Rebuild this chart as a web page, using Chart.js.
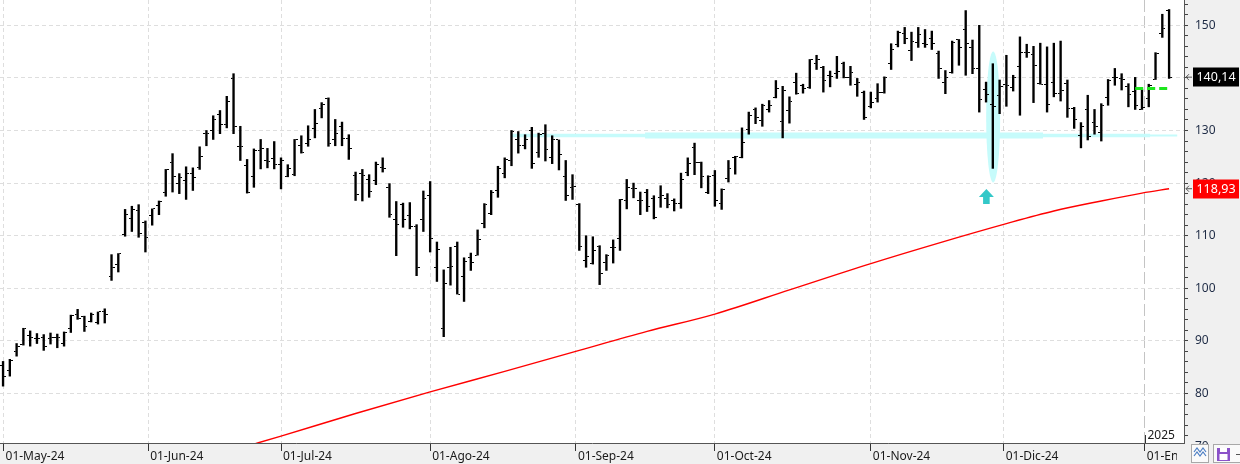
<!DOCTYPE html>
<html>
<head>
<meta charset="utf-8">
<script src="https://cdn.jsdelivr.net/npm/chart.js@4.4.1/dist/chart.umd.min.js"></script>
<style>
  html, body { margin: 0; padding: 0; background: #fff; overflow: hidden; }
  canvas { display: block; }
</style>
</head>
<body>
<canvas id="chart" width="1240" height="464"></canvas>
<script>
// daily bars, one per session, May 2024 -> early Jan 2025
const opens = [85.3,84.4,87.9,89.4,91.1,90.5,90.6,90.4,90.6,89.6,92.4,95.0,94.7,93.7,93.5,95.5,102.2,104.5,110.3,113.2,114.8,112.6,
  113.8,115.7,118.3,124.0,119.9,120.4,121.9,123.0,129.4,130.0,133.0,131.1,139.8,127.0,123.3,121.2,126.2,124.3,124.6,
  123.5,121.2,121.6,127.2,127.5,130.3,134.1,136.1,128.3,130.8,128.4,121.4,121.9,120.6,120.5,123.0,119.2,113.0,116.0,113.8,111.8,113.1,
  117.6,103.9,92.3,103.9,108.0,102.2,105.8,106.3,112.3,114.2,118.6,121.9,124.3,128.2,127.1,130.0,125.9,129.4,124.9,128.2,121.3,119.2,
  115.9,105.3,104.8,108.0,104.9,107.8,109.4,116.7,118.9,116.6,118.3,117.0,117.3,117.0,116.7,116.2,122.1,126.8,124.0,118.3,
  121.4,116.2,120.8,124.8,124.8,130.2,134.0,131.9,134.0,136.2,131.7,133.8,139.2,138.6,138.1,142.7,142.0,140.5,140.8,142.7,140.1,138.8,137.3,
  134.5,136.1,137.3,142.7,146.4,148.5,145.2,146.7,146.5,147.5,144.7,139.2,141.1,147.3,149.2,145.8,141.8,137.7,135.0,136.7,
  138.8,138.2,142.1,144.9,144.5,138.9,138.8,139.2,137.0,138.9,134.2,129.1,133.9,131.6,129.7,136.3,140.0,139.9,138.4,137.5,134.0,
  136.1,139.7,148.5,152.8];
const highs = [86.1,86.5,89.5,92.4,91.9,91.4,91.2,91.5,91.3,91.7,94.9,96.0,94.7,95.3,95.5,96.1,106.4,106.6,115.0,115.6,115.9,112.8,
  115.1,116.6,122.6,125.6,121.8,123.1,122.9,126.9,130.0,132.8,133.8,136.5,140.8,130.8,124.5,126.5,128.3,126.6,127.9,
  124.8,123.5,128.3,129.0,130.9,134.0,135.3,136.2,132.1,131.6,129.2,122.1,122.6,121.6,124.0,124.8,119.9,116.5,116.2,116.3,112.1,118.5,
  120.3,108.8,103.5,107.8,108.8,105.8,106.7,111.1,116.1,118.6,123.2,124.8,130.0,129.8,129.2,130.6,129.5,131.1,129.0,128.2,124.3,121.6,
  116.1,110.0,109.8,108.1,106.4,109.2,116.9,120.7,120.0,118.3,118.8,117.6,119.5,118.0,117.0,121.9,124.8,127.6,124.0,121.4,
  122.4,118.9,124.3,125.1,130.5,133.5,134.3,135.0,135.7,139.5,138.4,136.4,140.9,138.8,143.5,144.3,142.2,141.3,144.1,143.0,142.2,139.9,137.5,
  137.3,138.9,140.2,146.5,148.9,149.6,148.7,149.6,149.2,148.9,145.1,141.4,147.0,147.3,152.8,147.2,150.0,139.2,142.7,139.6,
  144.3,140.5,147.8,146.4,146.0,146.6,145.9,146.6,147.0,139.6,134.4,131.5,136.7,134.0,135.1,139.7,141.8,140.8,138.9,140.1,137.8,
  138.8,144.8,152.1,153.0];
const lows = [81.4,83.3,87.1,89.2,89.0,89.5,88.2,89.4,88.7,89.0,91.6,94.1,91.8,93.6,93.2,93.4,101.5,103.1,109.9,110.8,109.7,106.9,
  112.0,114.0,117.5,118.3,118.0,116.9,118.6,122.6,127.1,128.3,129.4,130.5,129.4,124.3,118.1,119.2,122.7,122.9,122.7,
  118.9,121.2,121.4,125.7,127.0,128.6,132.4,127.0,127.1,127.1,124.5,116.7,116.6,117.3,119.7,122.1,113.5,106.2,111.6,111.3,102.4,110.8,
  106.9,101.3,90.8,100.6,98.9,97.5,103.4,106.3,111.5,114.0,117.3,121.0,123.3,125.7,126.5,122.8,124.9,124.2,123.7,122.5,116.7,116.9,
  107.2,104.0,104.6,100.7,103.4,104.8,107.2,115.1,117.2,114.0,114.6,113.2,115.4,115.3,114.7,115.2,121.4,121.6,119.1,118.0,
  115.6,115.0,120.2,121.7,124.8,129.3,131.3,130.8,133.5,136.2,128.6,131.4,136.9,137.1,138.0,141.6,137.3,138.3,139.9,140.0,138.6,136.5,132.1,
  134.3,135.4,137.1,141.6,145.9,146.5,143.3,145.8,145.8,145.4,139.9,137.0,140.9,142.4,140.5,140.8,133.5,135.4,122.8,133.2,
  134.6,137.5,132.9,143.9,135.3,138.8,133.5,136.4,135.6,132.5,130.4,126.7,128.2,129.3,128.0,134.8,138.6,137.7,134.5,134.0,134.0,
  134.5,139.7,147.7,139.9];
const closes = [83.2,86.3,89.0,92.3,90.6,90.4,89.0,90.6,90.6,91.6,94.8,94.3,92.7,95.0,95.5,95.0,103.9,106.6,114.1,115.0,110.5,109.6,
  115.1,116.5,122.6,121.2,121.0,121.9,121.0,125.1,129.4,132.1,131.1,135.6,130.8,126.9,118.3,126.2,126.5,124.2,123.5,
  124.3,122.7,128.3,125.8,128.3,131.4,134.9,127.5,129.5,128.4,126.5,117.9,121.4,118.4,123.5,122.7,114.1,112.2,113.0,111.7,103.9,117.0,
  109.4,107.4,100.9,104.1,98.9,105.1,105.0,109.2,115.9,118.3,122.8,124.4,129.9,127.1,128.2,123.8,129.2,126.3,128.2,125.4,117.6,119.4,
  107.9,106.0,107.2,102.8,106.2,107.8,116.8,119.1,118.9,116.7,115.6,113.4,117.6,116.0,116.2,120.7,123.8,124.0,121.3,121.3,
  116.7,118.8,122.8,125.0,127.7,132.9,132.4,134.8,134.8,138.0,137.6,135.6,137.0,138.0,143.5,143.5,139.5,140.3,141.3,140.0,141.1,139.2,132.4,
  135.4,137.3,140.0,145.4,148.7,147.5,147.0,148.3,146.4,146.5,141.8,140.0,146.8,145.8,146.6,141.8,135.9,136.9,134.5,138.4,
  138.6,140.1,144.9,144.9,142.4,138.8,135.0,137.0,137.6,134.2,132.0,130.8,128.9,130.7,134.7,139.6,140.0,139.7,136.8,134.8,134.4,
  138.6,144.6,149.4,140.14];

// moving average (bar index, value)
const maIdx = [36, 41, 52, 63, 74, 85, 95, 105, 116, 128, 138, 148, 155, 162, 168, 172];
const maVal = [70.0, 71.9, 76.2, 80.3, 84.2, 88.2, 91.8, 95.1, 99.7, 104.7, 108.6, 112.3, 114.7, 116.6, 118.1, 118.93];

// month boundaries on the bar index axis
const monthPos = [0.07, 21.4, 41.0, 63.0, 84.5, 105.0, 128.0, 147.6, 168.4];
const monthLabels = ['01-May-24', '01-Jun-24', '01-Jul-24', '01-Ago-24', '01-Sep-24', '01-Oct-24', '01-Nov-24', '01-Dic-24', '01-Ene-25'];

// drawn annotations
const supportLevel = 129.05;
const supportFrom = [75, 75, 94.7];
const supportTo = [173.2, 169.2, 153.4];
const signalLevel = 138.0;
const signalFrom = 167.0, signalTo = 171.8;
const markBar = 146.05, markTop = 145.0, markBottom = 120.1;
const arrowBar = 145.05, arrowTip = 118.9;

Chart.defaults.font.family = '"Noto Sans", "DejaVu Sans", sans-serif';

function tickImg(left) {
  const c = document.createElement('canvas');
  c.width = 6; c.height = 1;
  const g = c.getContext('2d');
  g.fillStyle = '#000';
  g.fillRect(left ? 0 : 4, 0, 2, 1);
  return c;
}

const decor = {
  id: 'decor',
  beforeDraw(chart) {
    const { ctx, chartArea: a, width, height } = chart;
    ctx.save();
    ctx.fillStyle = '#fff';
    ctx.fillRect(0, 0, width, height);
    ctx.fillStyle = '#f0f0f0';
    ctx.fillRect(a.right, 0, width - a.right, height);
    ctx.fillRect(0, a.bottom, width, height - a.bottom);
    ctx.restore();
  },
  beforeDatasetsDraw(chart) {
    const { ctx, scales: { x, y } } = chart;
    const cx = x.getPixelForValue(markBar);
    const t = y.getPixelForValue(markTop), b = y.getPixelForValue(markBottom);
    ctx.save();
    ctx.fillStyle = '#c6fbfb';
    ctx.beginPath();
    ctx.ellipse(cx, (t + b) / 2, 7, (b - t) / 2, 0, 0, Math.PI * 2);
    ctx.fill();
    ctx.restore();
  },
  afterDatasetsDraw(chart) {
    const { ctx, scales: { x, y } } = chart;
    const ax = x.getPixelForValue(arrowBar), ay = y.getPixelForValue(arrowTip);
    ctx.save();
    ctx.fillStyle = '#33c8c8';
    ctx.beginPath();
    ctx.moveTo(ax, ay);
    ctx.lineTo(ax + 7.5, ay + 8);
    ctx.lineTo(ax + 3.3, ay + 8);
    ctx.lineTo(ax + 3.3, ay + 15);
    ctx.lineTo(ax - 3.3, ay + 15);
    ctx.lineTo(ax - 3.3, ay + 8);
    ctx.lineTo(ax - 7.5, ay + 8);
    ctx.closePath();
    ctx.fill();
    ctx.restore();
  },
  afterDraw(chart) {
    const { ctx, chartArea: a, scales: { x, y } } = chart;
    ctx.save();

    // partly hidden 70 label
    ctx.save();
    ctx.beginPath();
    ctx.rect(a.right, 0, 60, a.bottom + 1);
    ctx.clip();
    ctx.fillStyle = '#1e2b45';
    ctx.font = '12px "Noto Sans"';
    ctx.textAlign = 'left';
    ctx.textBaseline = 'middle';
    ctx.fillText('70', a.right + 11, y.getPixelForValue(70));
    ctx.restore();

    // year marker
    const jx = Math.round(x.getPixelForValue(monthPos[8])) + 0.5;
    ctx.strokeStyle = '#333';
    ctx.lineWidth = 1;
    ctx.beginPath();
    ctx.moveTo(jx, a.bottom - 8);
    ctx.lineTo(jx, a.bottom);
    ctx.stroke();
    ctx.fillStyle = '#1a1a1a';
    ctx.font = '12px "Noto Sans"';
    ctx.textAlign = 'left';
    ctx.textBaseline = 'alphabetic';
    ctx.fillText('2025', jx + 2, a.bottom - 4);

    // price tags on the right axis
    function tag(v, bg) {
      const py = y.getPixelForValue(v);
      ctx.fillStyle = bg;
      ctx.fillRect(a.right + 9, Math.round(py) - 9.5, 46, 19);
      ctx.fillStyle = '#fff';
      ctx.font = '12.5px "Noto Sans"';
      ctx.textAlign = 'center';
      ctx.textBaseline = 'middle';
      ctx.fillText(v.toFixed(2).replace('.', ','), a.right + 32, py + 0.5);
      ctx.strokeStyle = '#555';
      ctx.lineWidth = 1;
      ctx.beginPath();
      ctx.moveTo(a.right + 8, py);
      ctx.lineTo(a.right + 2, py);
      ctx.moveTo(a.right + 5, py - 3);
      ctx.lineTo(a.right + 2, py);
      ctx.lineTo(a.right + 5, py + 3);
      ctx.stroke();
    }
    tag(closes[closes.length - 1], '#000');
    tag(maVal[maVal.length - 1], '#ff0000');

    // bottom-right corner: clipped label and tool icons
    ctx.fillStyle = '#f0f0f0';
    ctx.fillRect(1177, a.bottom + 1, 63, 30);
    ctx.fillStyle = '#fafafa';
    ctx.strokeStyle = '#a8a8a8';
    ctx.fillRect(1191, 444, 18, 19);
    ctx.strokeRect(1191.5, 444.5, 17, 18);
    ctx.fillRect(1213, 444, 30, 19);
    ctx.strokeRect(1213.5, 444.5, 30, 18);
    ctx.strokeStyle = '#4d7fc4';
    ctx.lineWidth = 1.2;
    [0, 4].forEach(d => {
      ctx.beginPath();
      ctx.moveTo(1194, 454 + d - 2);
      ctx.lineTo(1197, 450 + d - 2);
      ctx.lineTo(1200, 454 + d - 2);
      ctx.lineTo(1203, 450 + d - 2);
      ctx.lineTo(1206, 454 + d - 2);
      ctx.stroke();
    });
    ctx.fillStyle = '#8b52c9';
    ctx.fillRect(1217, 448, 13, 13);
    ctx.fillStyle = '#fff';
    ctx.fillRect(1220, 448, 7, 4);
    ctx.fillRect(1219.5, 454, 8, 6);
    ctx.fillStyle = '#555';
    ctx.fillRect(1236, 454, 4, 1);
    ctx.restore();
  }
};

const supportSets = supportFrom.map((from, k) => ({
  type: 'line',
  data: [{ x: from, y: supportLevel }, { x: supportTo[k], y: supportLevel }],
  borderColor: '#c6fbfb',
  borderWidth: [2, 3.5, 6][k],
  borderCapStyle: 'butt',
  pointRadius: 0,
  order: 5
}));

new Chart(document.getElementById('chart'), {
  type: 'bar',
  data: {
    datasets: [
      {
        type: 'bar',
        data: lows.map((l, i) => ({ x: i, y: [l, highs[i]] })),
        backgroundColor: '#000',
        barThickness: 1.7,
        grouped: false,
        order: 1
      },
      {
        type: 'scatter',
        data: opens.map((v, i) => ({ x: i, y: v })),
        pointStyle: tickImg(true),
        pointRadius: 1,
        order: 0
      },
      {
        type: 'scatter',
        data: closes.map((v, i) => ({ x: i, y: v })),
        pointStyle: tickImg(false),
        pointRadius: 1,
        order: 0
      },
      {
        type: 'line',
        data: maIdx.map((v, i) => ({ x: v, y: maVal[i] })),
        borderColor: '#ff0000',
        borderWidth: 1.4,
        cubicInterpolationMode: 'monotone',
        pointRadius: 0,
        order: 2
      },
      ...supportSets,
      {
        type: 'line',
        data: [{ x: signalFrom, y: signalLevel }, { x: signalTo, y: signalLevel }],
        borderColor: '#1de61d',
        borderWidth: 3,
        borderDash: [8, 4],
        borderCapStyle: 'butt',
        pointRadius: 0,
        order: 0
      }
    ]
  },
  options: {
    responsive: false,
    devicePixelRatio: 1,
    animation: false,
    events: [],
    layout: { padding: 0, autoPadding: false },
    plugins: { legend: { display: false }, tooltip: { enabled: false } },
    scales: {
      x: {
        type: 'linear',
        min: -0.45,
        max: 174.2,
        offset: false,
        afterBuildTicks: s => { s.ticks = monthPos.map(v => ({ value: v })); },
        afterFit: s => { s.height = 21; s.paddingLeft = 0; s.paddingRight = 0; },
        grid: {
          offset: false,
          color: c => (c.index === 8 ? '#c4c4c4' : '#dedede'),
          lineWidth: 1,
          tickColor: '#333',
          tickLength: 8,
          tickWidth: 1,
          tickBorderDash: []
        },
        border: {
          color: '#555',
          width: 1,
          dash: c => (c.tick ? (c.index === 8 ? [12, 4] : [4, 3]) : [])
        },
        ticks: {
          autoSkip: false,
          maxRotation: 0,
          minRotation: 0,
          align: 'start',
          labelOffset: 2,
          padding: -2,
          color: '#1a1a1a',
          font: { size: 12 },
          callback: (v, i) => monthLabels[i]
        }
      },
      y: {
        position: 'right',
        min: 70.59,
        max: 154.81,
        afterBuildTicks: s => {
          const t = [];
          for (let v = 72; v <= 154; v += 2) t.push({ value: v });
          s.ticks = t;
        },
        afterFit: s => { s.width = 56; s.paddingTop = 0; s.paddingBottom = 0; },
        grid: {
          color: c => (c.tick && c.tick.value % 10 === 0 ? '#dedede' : 'rgba(0,0,0,0)'),
          tickColor: '#444',
          tickLength: 4,
          tickBorderDash: []
        },
        border: { color: '#555', width: 1, dash: [4, 3] },
        ticks: {
          autoSkip: false,
          padding: 7,
          color: '#1e2b45',
          font: { size: 12 },
          callback: v => (v % 10 === 0 ? String(v) : '')
        }
      }
    }
  },
  plugins: [decor]
});
</script>
</body>
</html>
